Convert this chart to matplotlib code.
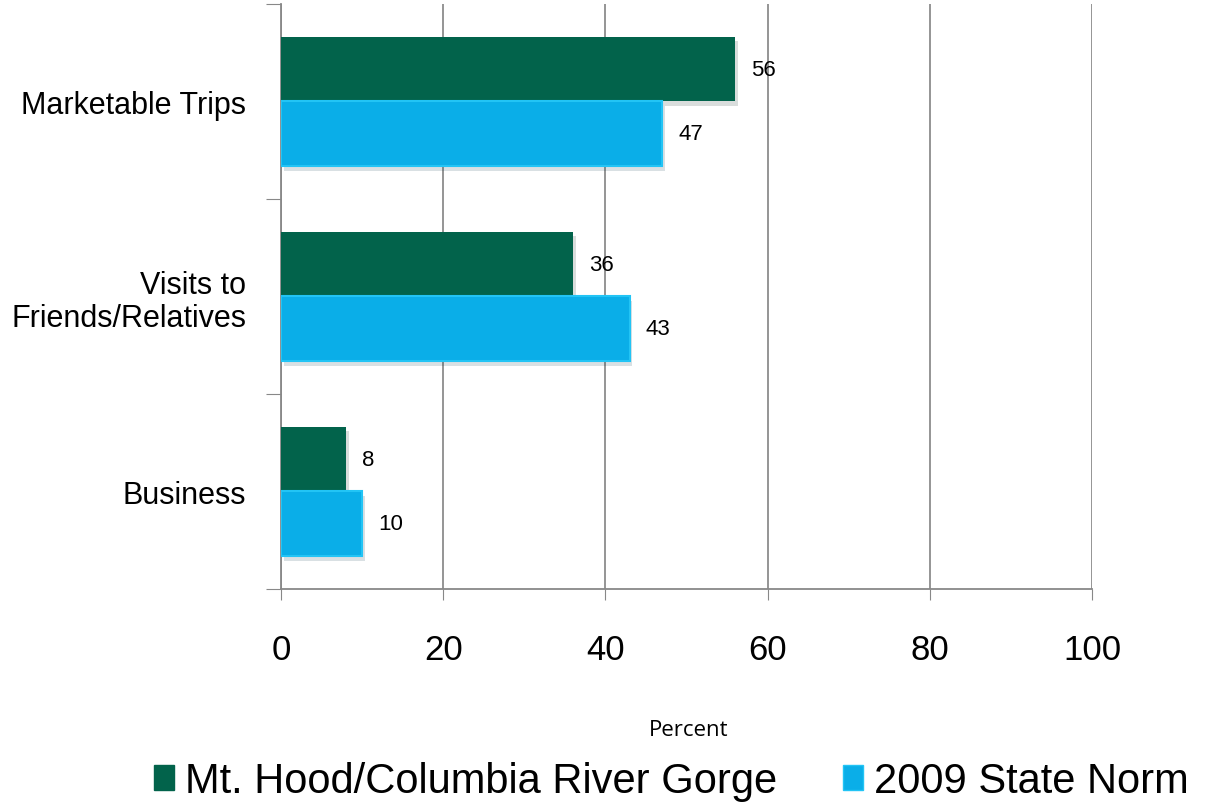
import matplotlib.pyplot as plt
import matplotlib.patheffects as pe
from matplotlib.patches import Patch
import numpy as np

categories = ['Marketable Trips', 'Visits to\nFriends/Relatives', 'Business']
gorge = [56, 36, 8]
state_norm = [47, 43, 10]
series_names = ['Mt. Hood/Columbia River Gorge', '2009 State Norm']
xticks = [0, 20, 40, 60, 80, 100]

green = '#02634B'
blue = '#0AAEE8'

fig = plt.figure(figsize=(12.12, 8.04), dpi=100)
ax = fig.add_axes([0.2318, 0.2662, 0.6692, 0.7276])

n = len(categories)
ypos = np.arange(n)[::-1].astype(float)
h = 0.333
shadow = [pe.SimplePatchShadow(offset=(2, -3), alpha=0.15), pe.Normal()]

b1 = ax.barh(ypos + h / 2, gorge, height=h, color=green, zorder=3)
b2 = ax.barh(ypos - h / 2, state_norm, height=h, color=blue, zorder=3,
             edgecolor='#22C4F5', linewidth=1.5)
for b in list(b1) + list(b2):
    b.set_path_effects(shadow)

for y, v in zip(ypos + h / 2, gorge):
    ax.text(v + 2.0, y, str(v), va='center', ha='left', fontsize=16,
            family='Liberation Sans', zorder=4)
for y, v in zip(ypos - h / 2, state_norm):
    ax.text(v + 2.0, y, str(v), va='center', ha='left', fontsize=16,
            family='Liberation Sans', zorder=4)

ax.set_xlim(0, 100)
ax.set_ylim(-0.5, n - 0.5)
ax.set_xticks(xticks)
ax.set_xticklabels([str(t) for t in xticks], fontsize=25, family='Liberation Sans')
ax.tick_params(axis='x', length=8, color='#888888', pad=24)

ax.set_yticks(np.arange(-0.5, n, 1.0))
ax.set_yticklabels([])
ax.set_yticks(ypos, minor=True)
ax.set_yticklabels(categories, minor=True, fontsize=22, family='Liberation Sans',
                   ha='right', linespacing=1.15)
ax.tick_params(axis='y', which='major', length=11, color='#888888')
ax.tick_params(axis='y', which='minor', length=0, pad=25)

ax.grid(axis='x', color='#8C8C8C', linewidth=1.3, zorder=0)
ax.set_axisbelow(True)
for s in ['top', 'right']:
    ax.spines[s].set_visible(False)
for s in ['left', 'bottom']:
    ax.spines[s].set_color('#888888')
    ax.spines[s].set_linewidth(1.3)

fig.text(0.568, 0.092, 'Percent', ha='center', va='center', fontsize=16,
         family='Open Sans')

handles = [Patch(facecolor=green, edgecolor=green),
           Patch(facecolor=blue, edgecolor='#22C4F5')]
fig.legend(handles, series_names, loc='center', bbox_to_anchor=(0.554, 0.027),
           ncol=2, frameon=False, handlelength=0.48, handleheight=0.55,
           handletextpad=0.25, columnspacing=1.6, borderpad=0,
           prop={'family': 'Liberation Sans', 'size': 30})

fig.savefig('out.png', dpi=100)
